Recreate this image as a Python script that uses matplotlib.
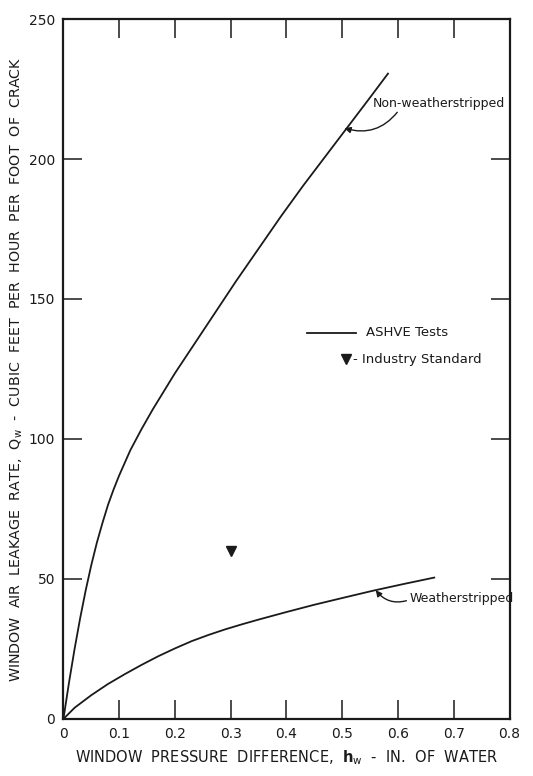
"""Window air leakage vs. window pressure difference (ASHVE tests)."""

import matplotlib

matplotlib.use("Agg")
import matplotlib.pyplot as plt


# Non-weatherstripped windows (ASHVE tests)
h_non = [0.0, 0.01, 0.02, 0.03, 0.04, 0.05, 0.06, 0.07, 0.08, 0.09, 0.1,
         0.12, 0.14, 0.16, 0.18, 0.2, 0.22, 0.25, 0.28, 0.31, 0.35, 0.39,
         0.43, 0.47, 0.51, 0.55, 0.582]
q_non = [0.0, 13.0, 25.0, 36.0, 46.0, 55.0, 63.0, 70.0, 76.5, 82.0, 87.0,
         96.0, 103.5, 110.5, 117.0, 123.5, 129.5, 138.5, 147.5, 156.5, 168.0,
         179.5, 190.5, 201.0, 211.5, 222.0, 230.5]

# Weatherstripped windows (ASHVE tests)
h_ws = [0.0, 0.02, 0.05, 0.08, 0.11, 0.14, 0.17, 0.2, 0.23, 0.26, 0.29,
        0.32, 0.35, 0.4, 0.45, 0.5, 0.555, 0.61, 0.665]
q_ws = [0.0, 4.0, 8.5, 12.5, 16.0, 19.3, 22.4, 25.2, 27.8, 30.0, 32.0,
        33.8, 35.5, 38.2, 40.8, 43.2, 45.8, 48.2, 50.5]

# Industry standard point
h_std = [0.3]
q_std = [60.0]

x_ticks = [0, 0.1, 0.2, 0.3, 0.4, 0.5, 0.6, 0.7, 0.8]
x_tick_labels = ["0", "0.1", "0.2", "0.3", "0.4", "0.5", "0.6", "0.7", "0.8"]
y_ticks = [0, 50, 100, 150, 200, 250]

INK = "#1a1a1a"

plt.rcParams["font.family"] = ["DejaVu Sans"]

fig = plt.figure(figsize=(5.33, 7.76), dpi=100)
ax = fig.add_axes([0.119, 0.0735, 0.837, 0.902])

ax.plot(h_non, q_non, color=INK, lw=1.3)
ax.plot(h_ws, q_ws, color=INK, lw=1.3)
ax.plot(h_std, q_std, linestyle="none", marker="v", color=INK, markersize=7)

ax.set_xlim(0, 0.8)
ax.set_ylim(0, 250)
ax.set_xticks(x_ticks)
ax.set_xticklabels(x_tick_labels)
ax.set_yticks(y_ticks)

for side in ax.spines.values():
    side.set_linewidth(1.6)
    side.set_color(INK)

ax.tick_params(direction="in", length=14, width=1.1, color=INK,
               top=True, right=True, labelsize=10, labelcolor=INK, pad=6)

ax.set_xlabel(r"WINDOW  PRESSURE  DIFFERENCE,  $\mathbf{h}_{\mathrm{w}}$  -  IN.  OF  WATER",
              fontsize=10.5, color=INK, labelpad=5)
ax.set_ylabel(r"WINDOW  AIR  LEAKAGE  RATE,  Q$_{\mathrm{w}}$  -  CUBIC  FEET  PER  HOUR  PER  FOOT  OF  CRACK",
              fontsize=10.3, color=INK, labelpad=3)

# curve labels
ax.annotate("Non-weatherstripped", xy=(0.504, 211), xytext=(0.555, 220),
            fontsize=9, color=INK, ha="left", va="center",
            arrowprops=dict(arrowstyle="-|>", color=INK, lw=1.0,
                            shrinkA=0, shrinkB=0, mutation_scale=9,
                            connectionstyle="arc3,rad=-0.35",
                            relpos=(0.2, 0.0)))
ax.annotate("Weatherstripped", xy=(0.56, 46.0), xytext=(0.62, 43.0),
            fontsize=9, color=INK, ha="left", va="center",
            arrowprops=dict(arrowstyle="-|>", color=INK, lw=1.0,
                            shrinkA=0, shrinkB=0, mutation_scale=9,
                            connectionstyle="arc3,rad=-0.35",
                            relpos=(0.0, 0.4)))

# legend drawn as text, as in the original
ax.plot([0.437, 0.525], [138, 138], color=INK, lw=1.3)
ax.text(0.543, 138, "ASHVE Tests", fontsize=9.5, color=INK, va="center")
ax.plot([0.507], [128.5], linestyle="none", marker="v", color=INK, markersize=6.5)
ax.text(0.52, 128.5, "- Industry Standard", fontsize=9.5, color=INK, va="center")

fig.savefig("out.png", dpi=100)
